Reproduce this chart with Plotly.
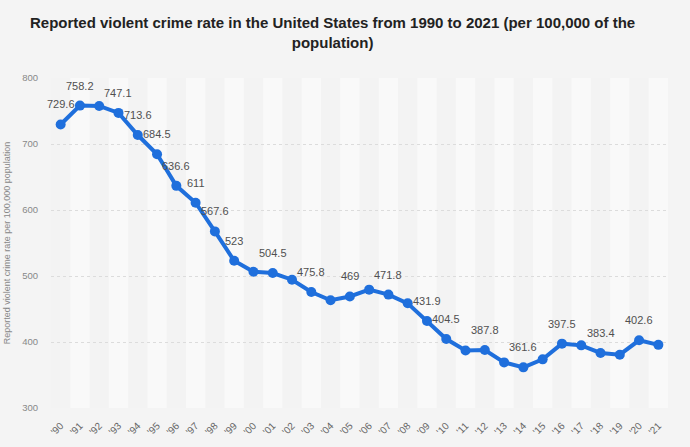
import plotly.graph_objects as go

# Reported violent crime rate per 100,000 population, US
years = ["'90", "'91", "'92", "'93", "'94", "'95", "'96", "'97", "'98", "'99",
         "'00", "'01", "'02", "'03", "'04", "'05", "'06", "'07", "'08", "'09",
         "'10", "'11", "'12", "'13", "'14", "'15", "'16", "'17", "'18", "'19",
         "'20", "'21"]
rates = [729.6, 758.2, 757.7, 747.1, 713.6, 684.5, 636.6, 611.0, 567.6, 523.0,
         506.5, 504.5, 494.4, 475.8, 463.2, 469.0, 479.3, 471.8, 458.6, 431.9,
         404.5, 387.1, 387.8, 369.1, 361.6, 373.7, 397.5, 394.9, 383.4, 380.8,
         402.6, 395.7]
# which points carry a value label in the original
labelled = ["'90", "'91", "'93", "'94", "'95", "'96", "'97", "'98", "'99", "'01",
            "'03", "'05", "'07", "'09", "'10", "'12", "'14", "'16", "'18", "'20"]
y_ticks = [300, 400, 500, 600, 700, 800]

font = "Liberation Sans, Arial, sans-serif"

fig = go.Figure()
fig.add_trace(go.Scatter(
    x=years, y=rates,
    mode="lines+markers",
    line=dict(color="#1f6fdc", width=4),
    marker=dict(color="#1f6fdc", size=10),
    hoverinfo="x+y",
    showlegend=False,
))

# alternating column bands
shapes = []
for i, yr in enumerate(years):
    if i % 2 == 1:
        shapes.append(dict(type="rect", xref="x", yref="paper",
                           x0=i - 0.5, x1=i + 0.5, y0=0, y1=1,
                           fillcolor="#f9f9f9", line=dict(width=0),
                           layer="below"))

annotations = []
for yr, v in zip(years, rates):
    if yr in labelled:
        txt = ("%.1f" % v).rstrip("0").rstrip(".")
        annotations.append(dict(x=yr, y=v, text=txt, showarrow=False,
                                yshift=20, font=dict(size=11, color="#505050",
                                                     family=font)))

fig.update_layout(
    width=690, height=447,
    paper_bgcolor="#f4f4f4",
    plot_bgcolor="#f3f3f3",
    margin=dict(l=51, r=22, t=78, b=39),
    title=dict(
        text="<b>Reported violent crime rate in the United States from 1990 to 2021 (per 100,000 of the<br>population)</b>",
        x=0.482, xanchor="center", y=0.937, yanchor="top",
        font=dict(size=15, color="#222222", family=font),
    ),
    shapes=shapes,
    annotations=annotations,
    xaxis=dict(
        type="category",
        range=[-0.5, len(years) - 0.5],
        tickangle=-45,
        tickfont=dict(size=10, color="#666666", family=font),
        showgrid=False, zeroline=False, showline=False, ticks="",
        ticklabelstandoff=9, automargin=False,
    ),
    yaxis=dict(
        range=[300, 800],
        tickvals=y_ticks,
        tickfont=dict(size=9.5, color="#888888", family=font),
        showgrid=True, gridcolor="#dcdcdc", griddash="dot", gridwidth=1,
        zeroline=False, showline=False, ticks="",
        ticklabelstandoff=12, automargin=False,
        title=dict(text="Reported violent crime rate per 100,000 population",
                   font=dict(size=9, color="#888888", family=font),
                   standoff=9),
    ),
)

fig.write_html("out.html", config={"displayModeBar": False},
               post_script="document.body.style.margin='0';"
               "document.body.style.background='#f4f4f4';")
